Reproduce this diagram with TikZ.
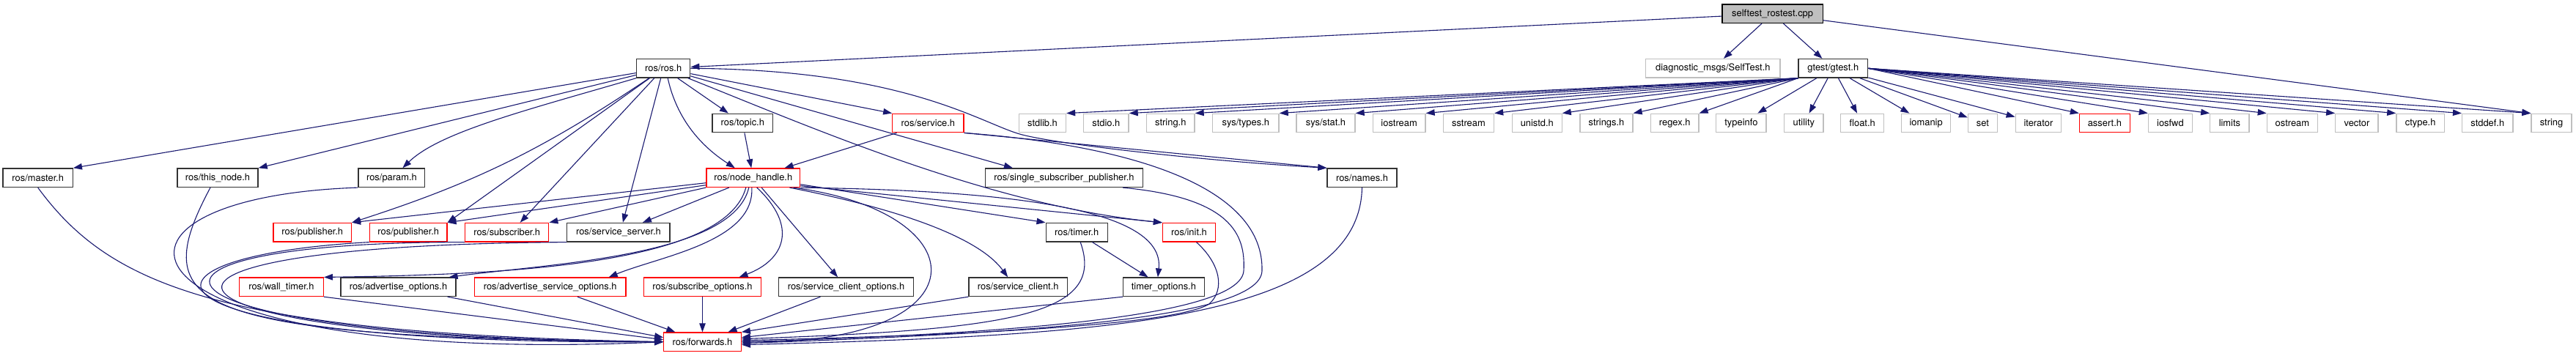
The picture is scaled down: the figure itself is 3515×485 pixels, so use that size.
\documentclass[tikz,border=0pt]{standalone}
\usepackage{fontspec}
\setmainfont{TeX Gyre Heros}
\usetikzlibrary{arrows.meta}
\definecolor{edgeblue}{HTML}{191970}
\definecolor{boxgray}{HTML}{BFBFBF}
\definecolor{boxdark}{HTML}{333333}
\begin{document}
\begin{tikzpicture}[x=1pt,y=-1pt,
    hdr/.style={draw=boxdark,line width=1.3pt,rectangle,inner sep=0pt,minimum height=25.5pt,
      font=\fontsize{12.9}{14}\selectfont},
    trunc/.style={hdr,draw=red},
    sys/.style={hdr,draw=boxgray},
    root/.style={hdr,draw=black,fill=boxgray},
    inc/.style={draw=edgeblue,line width=1.1pt,-{Triangle[length=12pt,width=8.5pt]}}]
    \fill[white] (0,0) rectangle (3515,485);
    \useasboundingbox (0,0) rectangle (3515,485);

    \node[root,minimum width=137.2pt] (selftest) at (2418.6,18.7) {selftest\_rostest.cpp};

    \node[hdr,minimum width=73.1pt] (ros) at (905.2,93.3) {ros/ros.h};
    \node[sys,minimum width=183.5pt] (selftestmsg) at (2337.3,93.3) {diagnostic\_msgs/SelfTest.h};
    \node[hdr,minimum width=94.5pt] (gtest) at (2501.3,93.3) {gtest/gtest.h};

    \node[hdr,minimum width=82.6pt] (topic) at (1013.3,168) {ros/topic.h};
    \node[trunc,minimum width=97.2pt] (service) at (1266.4,168) {ros/service.h};
    \node[sys,minimum width=64pt] (stdlibh) at (1422.5,168) {stdlib.h};
    \node[sys,minimum width=61.3pt] (stdioh) at (1509.4,168) {stdio.h};
    \node[sys,minimum width=65.5pt] (stringh) at (1597.3,168) {string.h};
    \node[sys,minimum width=90.5pt] (systypesh) at (1699.8,168) {sys/types.h};
    \node[sys,minimum width=80pt] (sysstath) at (1809,168) {sys/stat.h};
    \node[sys,minimum width=71.8pt] (iostreamh) at (1909.1,168) {iostream};
    \node[sys,minimum width=69.3pt] (sstreamh) at (2003.9,168) {sstream};
    \node[sys,minimum width=67.7pt] (unistdh) at (2097.3,168) {unistd.h};
    \node[sys,minimum width=72pt] (stringsh) at (2192,168) {strings.h};
    \node[sys,minimum width=65.5pt] (regexh) at (2285.2,168) {regex.h};
    \node[sys,minimum width=68.2pt] (typeinfoh) at (2375.9,168) {typeinfo};
    \node[sys,minimum width=53.2pt] (utilityh) at (2461.4,168) {utility};
    \node[sys,minimum width=59pt] (floath) at (2541.2,168) {float.h};
    \node[sys,minimum width=66.6pt] (iomaniph) at (2628.1,168) {iomanip};
    \node[sys,minimum width=39.8pt] (seth) at (2705.4,168) {set};
    \node[sys,minimum width=62.3pt] (iteratorh) at (2781.4,168) {iterator};
    \node[trunc,minimum width=68.9pt] (asserth) at (2871.9,168) {assert.h};
    \node[sys,minimum width=60pt] (iosfwdh) at (2961.4,168) {iosfwd};
    \node[sys,minimum width=53.3pt] (limitsh) at (3042.4,168) {limits};
    \node[sys,minimum width=69.1pt] (ostreamh) at (3127.9,168) {ostream};
    \node[sys,minimum width=58.3pt] (vectorh) at (3215.9,168) {vector};
    \node[sys,minimum width=65.5pt] (ctypeh) at (3302.6,168) {ctype.h};
    \node[sys,minimum width=69.4pt] (stddefh) at (3394.3,168) {stddef.h};
    \node[sys,minimum width=55pt] (stringcpp) at (3481.5,168) {string};

    \node[hdr,minimum width=95.3pt] (master) at (51.7,242.7) {ros/master.h};
    \node[hdr,minimum width=110.2pt] (thisnode) at (297,242.7) {ros/this\_node.h};
    \node[hdr,minimum width=90.8pt] (param) at (534.4,242.7) {ros/param.h};
    \node[trunc,minimum width=127.9pt] (nodehandle) at (1027.8,242.7) {ros/node\_handle.h};
    \node[hdr,minimum width=214.8pt] (singlesub) at (1451.9,242.7) {ros/single\_subscriber\_publisher.h};
    \node[hdr,minimum width=95pt] (names) at (1858.5,242.7) {ros/names.h};

    \node[trunc,minimum width=106.4pt] (pub1) at (426.3,317.2) {ros/publisher.h};
    \node[trunc,minimum width=105.5pt] (pub2) at (557.2,317.2) {ros/publisher.h};
    \node[trunc,minimum width=114pt] (subscriber) at (691.7,317.2) {ros/subscriber.h};
    \node[hdr,minimum width=140.3pt] (srvserver) at (843.9,317.2) {ros/service\_server.h};
    \node[hdr,minimum width=84.1pt] (timer) at (1469.2,317.2) {ros/timer.h};
    \node[trunc,minimum width=72pt] (init) at (1622.5,317.2) {ros/init.h};

    \node[trunc,minimum width=114.9pt] (walltimer) at (383.9,391.8) {ros/wall\_timer.h};
    \node[hdr,minimum width=157pt] (advopts) at (543.5,391.8) {ros/advertise\_options.h};
    \node[trunc,minimum width=206.6pt] (advsrvopts) at (750.7,391.8) {ros/advertise\_service\_options.h};
    \node[trunc,minimum width=160pt] (subopts) at (958.5,391.8) {ros/subscribe\_options.h};
    \node[hdr,minimum width=184pt] (srvclientopts) at (1154.5,391.8) {ros/service\_client\_options.h};
    \node[hdr,minimum width=134.6pt] (srvclient) at (1389.2,391.8) {ros/service\_client.h};
    \node[hdr,minimum width=110.8pt] (timeropts) at (1587.9,391.8) {timer\_options.h};

    \node[trunc,minimum width=105.6pt] (forwards) at (958.5,466.7) {ros/forwards.h};

    % selftest_rostest.cpp
    \draw[inc] (selftest) -- (ros);
    \draw[inc] (selftest) -- (selftestmsg);
    \draw[inc] (selftest) -- (gtest);
    \draw[inc] (selftest) -- (stringcpp.north west);

    % gtest/gtest.h
    \draw[inc] (gtest.south west) -- (stdlibh.north east);
    \draw[inc] (gtest.south west) -- (stdioh.north east);
    \draw[inc] (gtest.south west) -- (stringh.north east);
    \draw[inc] (gtest.south west) -- (systypesh.north east);
    \draw[inc] (gtest.south west) -- (sysstath.north east);
    \draw[inc] (gtest.south west) -- (iostreamh.north east);
    \draw[inc] (gtest.south west) -- (sstreamh.north east);
    \draw[inc] (gtest.south west) -- (unistdh.north east);
    \draw[inc] (gtest.south west) -- (stringsh.north east);
    \draw[inc] (gtest.south west) -- (regexh.north east);
    \draw[inc] (gtest) -- (typeinfoh);
    \draw[inc] (gtest) -- (utilityh);
    \draw[inc] (gtest) -- (floath);
    \draw[inc] (gtest) -- (iomaniph);
    \draw[inc] (gtest) -- (seth);
    \draw[inc] (gtest) -- (iteratorh);
    \draw[inc] (gtest.east) -- (asserth.north west);
    \draw[inc] (gtest.east) -- (iosfwdh.north west);
    \draw[inc] (gtest.east) -- (limitsh.north west);
    \draw[inc] (gtest.east) -- (ostreamh.north west);
    \draw[inc] (gtest.east) -- (vectorh.north west);
    \draw[inc] (gtest.east) -- (ctypeh.north west);
    \draw[inc] (gtest.east) -- (stddefh.north west);
    \draw[inc] (gtest.east) -- (stringcpp.north west);

    % ros/ros.h
    \draw[inc] (ros) -- (master.north east);
    \draw[inc] (ros) -- (thisnode.north east);
    \draw[inc] (ros.south west) .. controls (720,150) and (600,180) .. ([xshift=15pt]param.north);
    \draw[inc] (ros) to[bend left=8] (pub1.north east);
    \draw[inc] (ros) -- (pub2.north east);
    \draw[inc] (ros) -- ([xshift=18pt]subscriber.north);
    \draw[inc] (ros) -- ([xshift=6pt]srvserver.north);
    \draw[inc] ([xshift=6pt]ros.south) .. controls (925,170) and (965,205) .. ([xshift=-25pt]nodehandle.north);
    \draw[inc] (ros) -- (topic);
    \draw[inc] (ros) -- (service.north west);
    \draw[inc] (ros) -- ([xshift=-70pt]singlesub.north);
    \draw[inc] (ros) .. controls (1110,175) and (1350,280) .. (init.160);
    \draw[inc] (ros.east) .. controls (1240,95) and (1340,170) .. (1395,184)
        .. controls (1450,198) and (1650,220) .. (names.north west);

    \draw[inc] (topic) -- (nodehandle);
    \draw[inc] (service) -- (nodehandle);
    \draw[inc] (service.south east) -- (names.north west);
    \draw[inc] (service.south east) .. controls (1560,200) and (1725,260) .. (1722,370)
        .. controls (1719,435) and (1400,455) .. ([yshift=-2pt]forwards.east);

    % ros/node_handle.h
    \draw[inc] ([yshift=-7pt]nodehandle.west) -- (pub1.north east);
    \draw[inc] ([yshift=-10pt]nodehandle.west) -- (pub2.north east);
    \draw[inc] (nodehandle.south west) -- (subscriber.north east);
    \draw[inc] (nodehandle) -- (srvserver);
    \draw[inc] ([xshift=-10pt]nodehandle.south) .. controls (990,360) and (700,375) .. (walltimer.north east);
    \draw[inc] ([xshift=-6pt]nodehandle.south) .. controls (1000,350) and (750,360) .. ([xshift=-10pt]advopts.north east);
    \draw[inc] ([xshift=-2pt]nodehandle.south) .. controls (1030,330) and (900,350) .. ([xshift=80pt]advsrvopts.north);
    \draw[inc] ([xshift=5pt]nodehandle.south) .. controls (1090,310) and (1070,355) .. ([xshift=50pt]subopts.north);
    \draw[inc] (nodehandle) -- (srvclientopts);
    \draw[inc] ([xshift=-15pt]nodehandle.south east) .. controls (1250,290) and (1340,330) .. ([xshift=-14pt]srvclient.north);
    \draw[inc] ([yshift=-9pt]nodehandle.east) -- (timer.north west);
    \draw[inc] ([yshift=-11pt]nodehandle.east) -- (init.160);
    \draw[inc] (nodehandle.south east) .. controls (1380,260) and (1590,285) .. ([xshift=-8pt]timeropts.north);
    \draw[inc] ([xshift=-10pt]nodehandle.south east) .. controls (1340,290) and (1345,470) .. (forwards.east);

    \draw[inc] (timer) -- (timeropts);

    % ros/forwards.h
    \draw[inc] (master.south) .. controls (150,390) and (300,455) .. (forwards.west);
    \draw[inc] ([xshift=-10pt]thisnode.south) .. controls (200,420) and (250,460) .. (forwards.west);
    \draw[inc] (param.south west) .. controls (80,270) and (140,500) .. (forwards.west);
    \draw[inc] (pub2.south west) .. controls (150,350) and (150,470) .. (forwards.west);
    \draw[inc] (subscriber.south west) .. controls (120,330) and (150,460) .. (forwards.west);
    \draw[inc] (srvserver.south west) .. controls (80,335) and (180,465) .. (forwards.west);
    \draw[inc] (walltimer.south east) -- ([yshift=3pt]forwards.west);
    \draw[inc] ([xshift=-12pt]advopts.south east) -- ([yshift=6pt]forwards.west);
    \draw[inc] (advsrvopts) -- (forwards);
    \draw[inc] (subopts) -- (forwards);
    \draw[inc] (srvclientopts) -- (forwards);
    \draw[inc] (srvclient.south west) -- (forwards.north east);
    \draw[inc] ([xshift=5pt]timer.south) .. controls (1510,430) and (1380,450) .. ([yshift=4pt]forwards.east);
    \draw[inc] (timeropts.south west) -- ([yshift=6pt]forwards.east);
    \draw[inc] ([xshift=10pt]init.south) .. controls (1665,360) and (1672,395) .. (1650,415)
        .. controls (1600,445) and (1300,458) .. ([yshift=2pt]forwards.east);
    \draw[inc] ([xshift=80pt]singlesub.south) .. controls (1680,270) and (1700,320) .. (1697,370)
        .. controls (1692,430) and (1400,455) .. (forwards.east);
    \draw[inc] (names.south) .. controls (1855,440) and (1500,458) .. ([yshift=-4pt]forwards.east);
\end{tikzpicture}
\end{document}
